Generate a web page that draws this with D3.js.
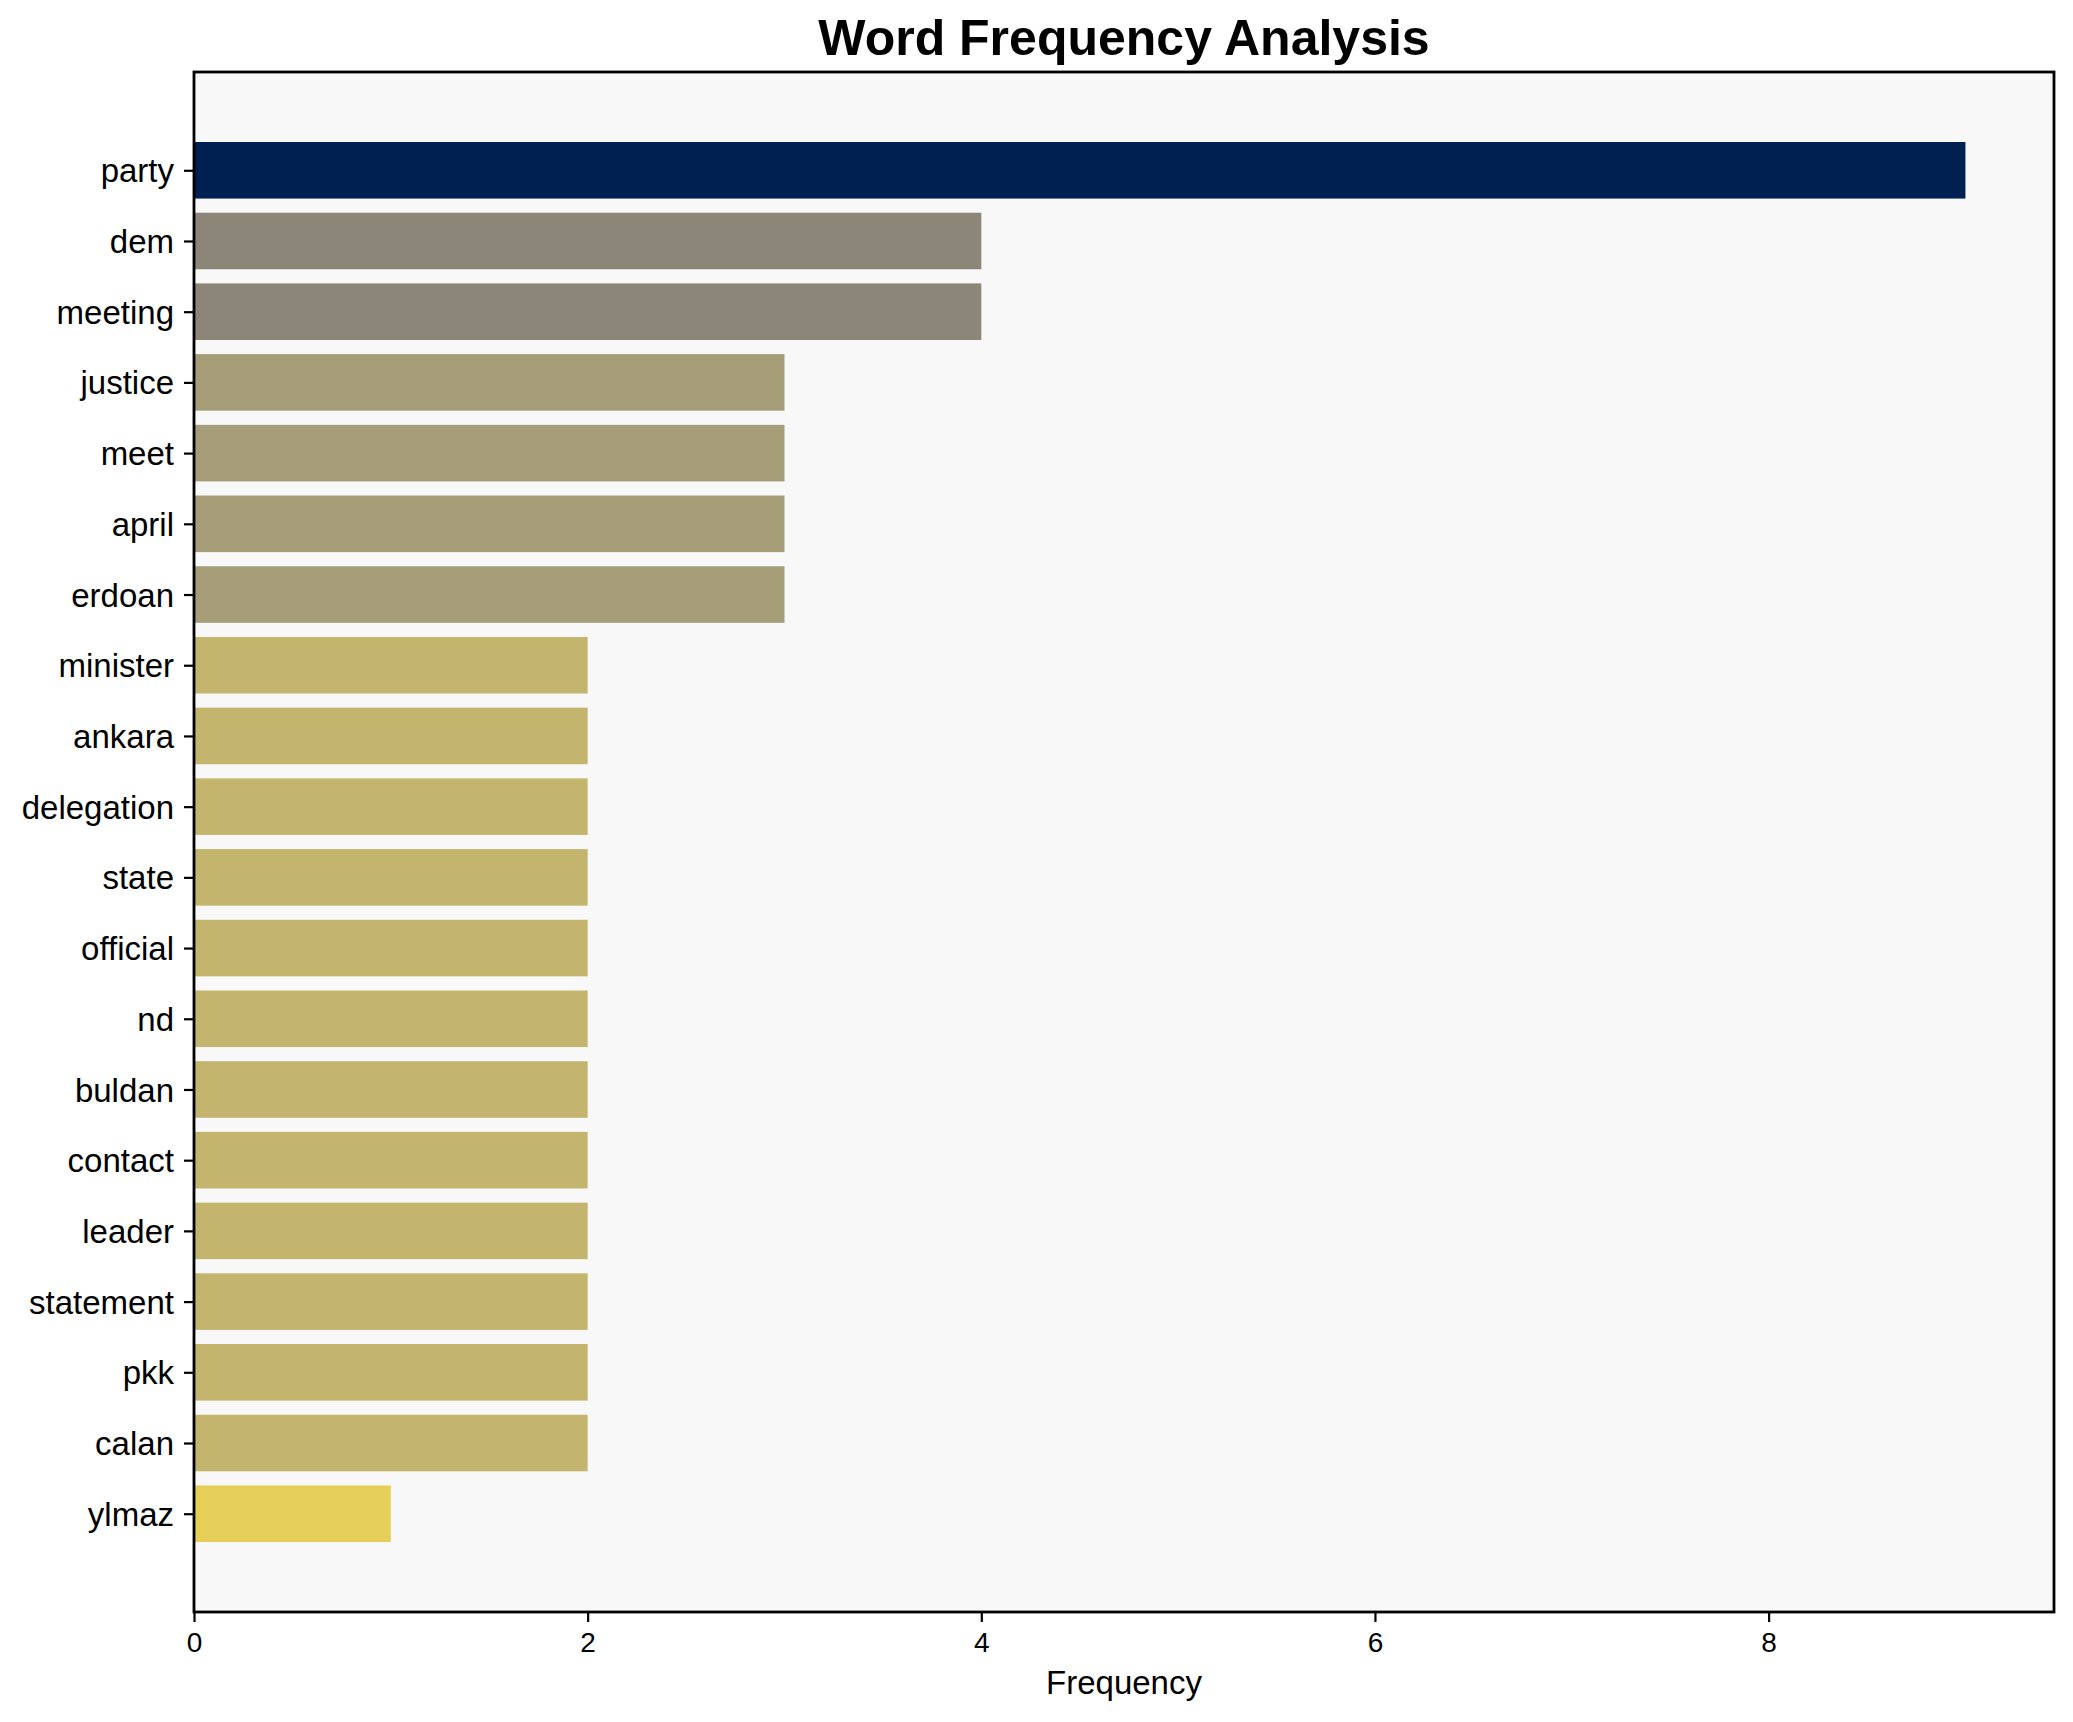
<!DOCTYPE html>
<html>
<head>
<meta charset="utf-8">
<script src="https://cdn.jsdelivr.net/npm/d3@7"></script>
<style>
    body { margin: 0; background: #ffffff; }
    svg { display: block; }
    text { font-family: "Liberation Sans", Arial, sans-serif; fill: #000; }
</style>
</head>
<body>
<svg id="chart" width="2073" height="1722"></svg>
<script>
// word frequency data, top to bottom
const words = ["party", "dem", "meeting", "justice", "meet", "april", "erdoan",
    "minister", "ankara", "delegation", "state", "official", "nd", "buldan",
    "contact", "leader", "statement", "pkk", "calan", "ylmaz"];
const counts = [9, 4, 4, 3, 3, 3, 3, 2, 2, 2, 2, 2, 2, 2, 2, 2, 2, 2, 2, 1];
const xTicks = [0, 2, 4, 6, 8];

const svg = d3.select("#chart");
const plot = { left: 194, right: 2054, top: 72, bottom: 1612 };

// matplotlib-like margins: 5% of data range on each side
const n = words.length;
const yLo = -0.4, yHi = n - 1 + 0.4;
const yPad = (yHi - yLo) * 0.05;
const y = d3.scaleLinear()
    .domain([yLo - yPad, yHi + yPad])
    .range([plot.top, plot.bottom]);

const xMax = d3.max(counts) * 1.05;
const x = d3.scaleLinear()
    .domain([0, xMax])
    .range([plot.left, plot.right]);

// colour from cividis, darker for higher counts
const colour = d => d3.interpolateCividis(1 - d / d3.max(counts));

svg.append("rect")
    .attr("x", plot.left)
    .attr("y", plot.top)
    .attr("width", plot.right - plot.left)
    .attr("height", plot.bottom - plot.top)
    .attr("fill", "#f8f8f8");

const barH = y(0.4) - y(-0.4);
svg.append("g")
    .selectAll("rect")
    .data(words)
    .enter().append("rect")
    .attr("x", x(0))
    .attr("y", (d, i) => y(i) - barH / 2)
    .attr("width", (d, i) => x(counts[i]) - x(0))
    .attr("height", barH)
    .attr("fill", (d, i) => colour(counts[i]));

// y axis
const yAxis = svg.append("g")
    .attr("transform", `translate(${plot.left},0)`)
    .call(d3.axisLeft(y)
        .tickValues(d3.range(n))
        .tickFormat(i => words[i])
        .tickSize(10)
        .tickPadding(10));
yAxis.select(".domain").remove();
yAxis.selectAll("line").attr("stroke", "#000").attr("stroke-width", 2.2);
yAxis.selectAll("text")
    .style("font-size", "33px")
    .style("font-family", "'Liberation Sans', Arial, sans-serif")
    .attr("dy", "0.35em");

// x axis
const xAxis = svg.append("g")
    .attr("transform", `translate(0,${plot.bottom})`)
    .call(d3.axisBottom(x)
        .tickValues(xTicks)
        .tickFormat(d3.format("d"))
        .tickSize(10)
        .tickPadding(10));
xAxis.select(".domain").remove();
xAxis.selectAll("line").attr("stroke", "#000").attr("stroke-width", 2.2);
xAxis.selectAll("text")
    .style("font-size", "28px")
    .style("font-family", "'Liberation Sans', Arial, sans-serif");

// frame
svg.append("rect")
    .attr("x", plot.left)
    .attr("y", plot.top)
    .attr("width", plot.right - plot.left)
    .attr("height", plot.bottom - plot.top)
    .attr("fill", "none")
    .attr("stroke", "#000")
    .attr("stroke-width", 2.8);

svg.append("text")
    .attr("x", (plot.left + plot.right) / 2)
    .attr("y", 1694)
    .attr("text-anchor", "middle")
    .style("font-size", "33px")
    .text("Frequency");

svg.append("text")
    .attr("x", (plot.left + plot.right) / 2)
    .attr("y", 55)
    .attr("text-anchor", "middle")
    .style("font-size", "50px")
    .style("font-weight", "bold")
    .text("Word Frequency Analysis");
</script>
</body>
</html>
